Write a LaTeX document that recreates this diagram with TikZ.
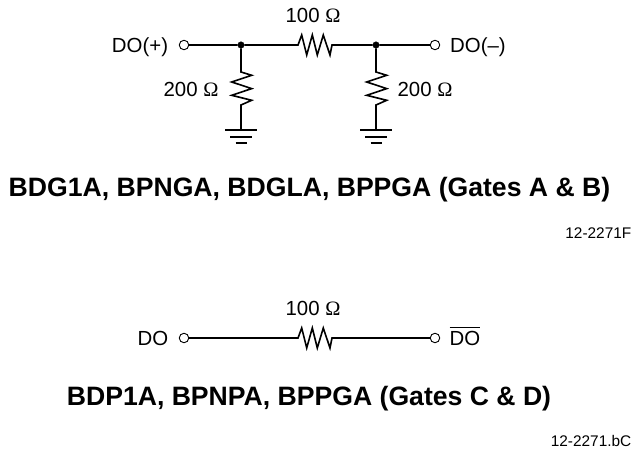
\documentclass[tikz,border=0pt]{standalone}
\usepackage{fontspec}
\setmainfont{Liberation Sans}
\newfontfamily\omegafont{Liberation Serif}
\newcommand{\ohm}{{\omegafont Ω}}
\tikzset{
  wire/.style={draw,line width=1.6pt,line join=miter},
  term/.style={draw,circle,line width=0.9pt,inner sep=0pt,minimum size=9.5pt},
  junc/.style={draw,circle,fill=black,inner sep=0pt,minimum size=6.5pt},
  lbl/.style={inner sep=0pt,anchor=base,font=\fontsize{20.4}{24}\selectfont},
  title/.style={inner sep=0pt,anchor=base,font=\fontsize{26.6}{32}\selectfont\bfseries},
  code/.style={inner sep=0pt,anchor=base east,font=\fontsize{15.4}{18}\selectfont}
}
\begin{document}
\begin{tikzpicture}[x=1pt,y=1pt]
\useasboundingbox (0,0) rectangle (632,450);

% upper network
\node[term] (t1) at (184,405) {};
\node[term] (t2) at (435,405) {};
\node[junc] (j1) at (241,405) {};
\node[junc] (j2) at (376,405) {};
\coordinate (r1) at (298,405);
\coordinate (r2) at (332,405);
\coordinate (r3) at (241,378);
\coordinate (r4) at (241,345);
\coordinate (r5) at (376,378);
\coordinate (r6) at (376,345);
\coordinate (g1) at (241,320);
\coordinate (g2) at (376,320);

\node[lbl] (a1) at (140,397) {DO(+)};
\node[lbl] (a2) at (478,397) {DO(--)};
\node[lbl] (a3) at (313,427) {100 \ohm};
\node[lbl] (a4) at (191,353) {200 \ohm};
\node[lbl] (a5) at (425,353) {200 \ohm};

\path[wire] (t1) -- (j1) -- (r1) -- ++(3.7,10) -- ++(5,-20) -- ++(5.6,20) -- ++(5,-20)
  -- ++(6,20) -- ++(6.7,-20) -- (r2) -- (j2) -- (t2);
\path[wire] (j1) -- (r3) -- ++(10.7,-3.3) -- ++(-20,-6.7) -- ++(20,-6.6) -- ++(-20,-6.7)
  -- ++(20,-5) -- (r4) -- (g1);
\path[wire] (j2) -- (r5) -- ++(10.7,-3.3) -- ++(-20,-6.7) -- ++(20,-6.6) -- ++(-20,-6.7)
  -- ++(20,-5) -- (r6) -- (g2);

% grounds
\path[wire] ([xshift=-16pt]g1) -- ([xshift=16pt]g1);
\path[wire] ([xshift=-11pt,yshift=-7pt]g1) -- ([xshift=11pt,yshift=-7pt]g1);
\path[wire] ([xshift=-5.5pt,yshift=-13pt]g1) -- ([xshift=5.5pt,yshift=-13pt]g1);
\path[wire] ([xshift=-16pt]g2) -- ([xshift=16pt]g2);
\path[wire] ([xshift=-11pt,yshift=-7pt]g2) -- ([xshift=11pt,yshift=-7pt]g2);
\path[wire] ([xshift=-5.5pt,yshift=-13pt]g2) -- ([xshift=5.5pt,yshift=-13pt]g2);

\node[title] (n1) at (309.5,253) {BDG1A, BPNGA, BDGLA, BPPGA (Gates A \& B)};
\node[code] (c1) at (631.5,211) {12-2271F};

% lower network
\node[term] (t3) at (184,112) {};
\node[term] (t4) at (435,112) {};
\coordinate (r7) at (298,112);
\coordinate (r8) at (332,112);

\node[lbl] (a6) at (153,104) {DO};
\node[lbl] (a7) at (465,104) {$\overline{\mbox{\rule{0pt}{17.5pt}DO}}$};
\node[lbl] (a8) at (313,134) {100 \ohm};

\path[wire] (t3) -- (r7) -- ++(3.7,10) -- ++(5,-20) -- ++(5.6,20) -- ++(5,-20)
  -- ++(6,20) -- ++(6.7,-20) -- (r8) -- (t4);

\node[title] (n2) at (309,45) {BDP1A, BPNPA, BPPGA (Gates C \& D)};
\node[code] (c2) at (631.5,4) {12-2271.bC};
\end{tikzpicture}
\end{document}
